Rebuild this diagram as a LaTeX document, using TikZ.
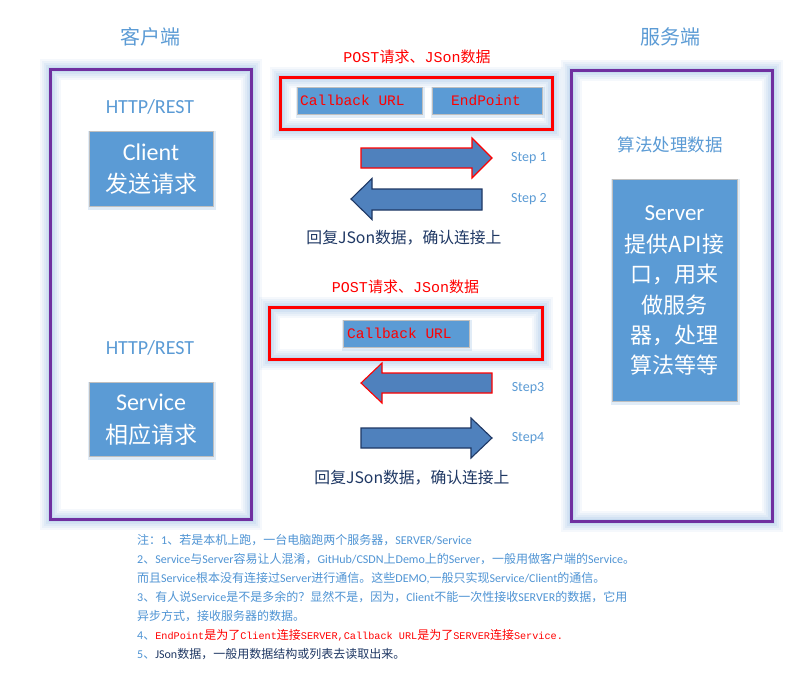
\documentclass[tikz,border=0pt]{standalone}
\usepackage{fontspec}
\setmainfont{Noto Sans CJK SC}
\newfontfamily\monof{Liberation Mono}
\newfontfamily\latf{Carlito}
\newcommand\mt[1]{{\monof #1}}
\newcommand\ms[1]{{\monof\fontsize{10.2}{14}\selectfont #1}}
\newcommand\lt[1]{{\latf #1}}
\definecolor{lblue}{HTML}{5B9BD5}
\definecolor{boxfill}{HTML}{5B9BD5}
\definecolor{arrfill}{HTML}{4F81BD}
\definecolor{navy}{HTML}{1F3864}
\definecolor{purp}{HTML}{7030A0}
\definecolor{glowc}{HTML}{9DC3E6}
\definecolor{noteblue}{HTML}{4F94D4}
\tikzset{
  glow/.style={preaction={draw=glowc,line width=21pt,draw opacity=.1},
               preaction={draw=glowc,line width=17pt,draw opacity=.12},
               preaction={draw=glowc,line width=13pt,draw opacity=.14},
               preaction={draw=glowc,line width=9pt,draw opacity=.18},
               preaction={draw=glowc,line width=5pt,draw opacity=.25}},
  container/.style={glow,draw=purp,line width=3pt,fill=none,inner sep=0pt},
  redframe/.style={glow,draw=red,line width=3pt,inner sep=0pt},
  bluebox/.style={preaction={draw=glowc,line width=4pt,draw opacity=.3,transform canvas={shift={(1pt,-1.5pt)}}},
     fill=boxfill,draw=black!25,line width=0.8pt,inner sep=0pt,text=white},
  arrowshape/.style={fill=arrfill,line width=1.1pt,line join=miter},
  title/.style={text=lblue,font=\fontsize{20}{24}\selectfont},
  sub/.style={text=lblue,font=\latf\fontsize{20}{24}\selectfont},
  steplab/.style={text=lblue,font=\latf\fontsize{14}{17}\selectfont},
  redlab/.style={text=red,font=\fontsize{15}{18}\selectfont},
  reply/.style={text=navy,font=\fontsize{15.8}{19}\selectfont},
  note/.style={anchor=west,text=noteblue,font=\fontsize{12}{14}\selectfont,inner sep=0pt},
}
\begin{document}
\begin{tikzpicture}[x=1pt,y=-1pt]
\useasboundingbox[fill=white] (0,0) rectangle (793,678);

% titles
\node[title] (tl) at (150,37) {客户端};
\node[title] (tr) at (670,37) {服务端};

% containers
\node[container,minimum width=201,minimum height=450] (lc) at (150.5,294) {};
\node[container,minimum width=201,minimum height=451] (rc) at (671.5,295.5) {};

% left side
\node[sub] (h1) at (150,107) {HTTP/REST};
\node[bluebox,minimum width=124,minimum height=75] (client) at (151,168.5) {};
\node[text=white,font=\latf\fontsize{24}{28}\selectfont] (clt) at (151,152) {Client};
\node[text=white,font=\fontsize{23}{28}\selectfont] (clc) at (151,184) {发送请求};

\node[sub] (h2) at (150,348) {HTTP/REST};
\node[bluebox,minimum width=124,minimum height=74] (service) at (151,419) {};
\node[text=white,font=\latf\fontsize{24}{28}\selectfont] (svt) at (151,402) {Service};
\node[text=white,font=\fontsize{23}{28}\selectfont] (svc) at (151,435) {相应请求};

% right side
\node[text=lblue,font=\fontsize{17.5}{21}\selectfont] (alg) at (670,145) {算法处理数据};
\node[bluebox,minimum width=125,minimum height=222] (server) at (674.5,290) {};
\node[text=white,font=\latf\fontsize{23}{26}\selectfont] (s0) at (674.5,213) {Server};
\node[text=white,font=\fontsize{22}{26}\selectfont] (s1) at (674.5,244.5) {提供API接};
\node[text=white,font=\fontsize{22}{26}\selectfont] (s2) at (674.5,274.5) {口，用来};
\node[text=white,font=\fontsize{22}{26}\selectfont] (s3) at (674.5,305) {做服务};
\node[text=white,font=\fontsize{22}{26}\selectfont] (s4) at (674.5,335) {器，处理};
\node[text=white,font=\fontsize{22}{26}\selectfont] (s5) at (674.5,365) {算法等等};

% first request
\node[redlab] (p1) at (417,57) {\mt{POST}请求、\mt{JSon}数据};
\node[redframe,minimum width=272,minimum height=52] (rf1) at (416,103) {};
\node[bluebox,minimum width=125,minimum height=27] (cb1) at (359.5,100.5) {};
\node[anchor=west,text=red,font=\monof\fontsize{14.5}{17}\selectfont,inner sep=0pt] (cb1t) at (300,100.5) {Callback URL};
\node[bluebox,minimum width=110,minimum height=27] (ep) at (487,100.5) {};
\node[text=red,font=\monof\fontsize{14.5}{17}\selectfont,inner sep=0pt] (ept) at (486,100) {EndPoint};

% step arrows 1 and 2
\coordinate (a1) at (361,148);
\draw[arrowshape,draw=red] (a1) -- (472,148) -- (472,138) -- (492,158) -- (472,178) -- (472,168) -- (361,168) -- cycle;
\node[steplab] (st1) at (529,158) {Step 1};
\coordinate (a2) at (482,189);
\draw[arrowshape,draw=navy] (a2) -- (372,189) -- (372,178.5) -- (351,199) -- (372,219.5) -- (372,210) -- (482,210) -- cycle;
\node[steplab] (st2) at (529,199) {Step 2};
\node[reply] (r1) at (404,238) {回复JSon数据，确认连接上};

% second request
\node[redlab] (p2) at (405.5,287) {\mt{POST}请求、\mt{JSon}数据};
\node[redframe,minimum width=273,minimum height=52] (rf2) at (405.5,333) {};
\node[bluebox,minimum width=126,minimum height=27] (cb2) at (406,333.5) {};
\node[anchor=west,text=red,font=\monof\fontsize{14.5}{17}\selectfont,inner sep=0pt] (cb2t) at (347,333.5) {Callback URL};

% step arrows 3 and 4
\coordinate (a3) at (492,373);
\draw[arrowshape,draw=red] (a3) -- (382,373) -- (382,363) -- (361,383) -- (382,403) -- (382,393) -- (492,393) -- cycle;
\node[steplab] (st3) at (528,388) {Step3};
\coordinate (a4) at (361,428);
\draw[arrowshape,draw=navy] (a4) -- (471,428) -- (471,418) -- (492,438) -- (471,458) -- (471,448) -- (361,448) -- cycle;
\node[steplab] (st4) at (528,438) {Step4};
\node[reply] (r2) at (412,478) {回复JSon数据，确认连接上};

% notes
\node[note] (n1) at (137,540) {注：\lt{1}、若是本机上跑，一台电脑跑两个服务器，\lt{SERVER/Service}};
\node[note] (n2) at (137,559) {\lt{2}、\lt{Service}与\lt{Server}容易让人混淆，\lt{GitHub/CSDN}上\lt{Demo}上的\lt{Server}，一般用做客户端的\lt{Service}。};
\node[note] (n3) at (137,578) {而且\lt{Service}根本没有连接过\lt{Server}进行通信。这些\lt{DEMO,}一般只实现\lt{Service/Client}的通信。};
\node[note] (n4) at (137,597) {\lt{3}、有人说\lt{Service}是不是多余的？显然不是，因为，\lt{Client}不能一次性接收\lt{SERVER}的数据，它用};
\node[note] (n5) at (137,616) {异步方式，接收服务器的数据。};
\node[note] (n6) at (137,635) {\lt{4}、\textcolor{red}{\ms{EndPoint}是为了\ms{Client}连接\ms{SERVER,Callback URL}是为了\ms{SERVER}连接\ms{Service.}}};
\node[note] (n7) at (137,654) {\lt{5}、\textcolor{navy}{\lt{JSon}数据，一般用数据结构或列表去读取出来。}};
\end{tikzpicture}
\end{document}
